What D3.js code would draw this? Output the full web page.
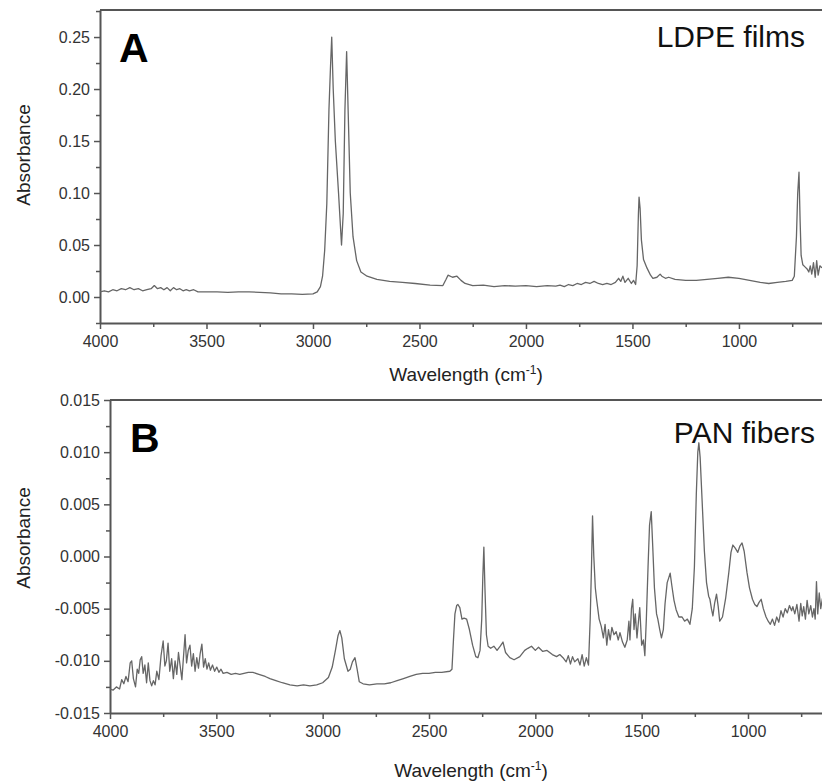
<html>
<head>
	<meta charset="utf-8">
	<title>FTIR spectra</title>
	<style>
		body {
			margin:0;
			padding:0;
			background:#fff;
			font-family: "Liberation Sans", Arial, sans-serif;
		}
		.domain { stroke:#555; stroke-width:2; }
		.tick line { stroke:#555; stroke-width:1.5; }
		.tick text { fill:#333; font-size:16px; font-family:"Liberation Sans", Arial, sans-serif; }
		.spec { fill:none; stroke:#666; stroke-width:1.3; stroke-linejoin:round; }
	</style>
</head>
<body>
	<svg width="822" height="782"></svg>

	<script src="https://d3js.org/d3.v7.min.js"></script>
	<script>

		// LDPE film spectrum, [wavenumber, absorbance]
		var ldpe = [
			[4000,0.005],[3980,0.006],[3960,0.005],[3940,0.007],[3920,0.006],[3900,0.008],[3880,0.007],
			[3860,0.009],[3840,0.007],[3820,0.008],[3800,0.006],[3780,0.007],[3760,0.008],[3745,0.011],
			[3730,0.008],[3715,0.009],[3700,0.007],[3685,0.009],[3670,0.006],[3655,0.009],[3640,0.007],
			[3625,0.008],[3610,0.006],[3595,0.007],[3580,0.006],[3560,0.007],[3540,0.005],[3500,0.005],
			[3450,0.005],[3400,0.0045],[3350,0.005],[3300,0.005],[3250,0.0045],[3200,0.004],[3150,0.003],
			[3100,0.003],[3050,0.0025],[3000,0.003],[2980,0.005],[2965,0.010],[2955,0.020],[2945,0.045],
			[2935,0.09],[2925,0.18],[2918,0.22],[2912,0.250],[2905,0.20],[2895,0.15],[2880,0.10],
			[2866,0.050],[2858,0.08],[2850,0.18],[2842,0.236],[2835,0.18],[2825,0.10],[2812,0.058],
			[2795,0.035],[2775,0.024],[2746,0.020],[2700,0.017],[2640,0.015],[2580,0.014],[2520,0.013],
			[2450,0.0115],[2390,0.011],[2375,0.017],[2366,0.021],[2345,0.019],[2324,0.020],[2305,0.016],
			[2286,0.013],[2250,0.011],[2200,0.0115],[2150,0.010],[2100,0.011],[2050,0.0105],[2000,0.011],
			[1950,0.010],[1900,0.011],[1860,0.0105],[1840,0.0115],[1820,0.010],[1800,0.012],[1780,0.011],
			[1760,0.013],[1740,0.012],[1720,0.014],[1700,0.013],[1680,0.015],[1660,0.013],[1640,0.012],
			[1620,0.013],[1600,0.012],[1580,0.014],[1565,0.018],[1555,0.015],[1545,0.020],[1535,0.014],
			[1520,0.018],[1505,0.013],[1495,0.016],[1485,0.012],[1478,0.030],[1472,0.080],[1469,0.096],
			[1464,0.085],[1458,0.055],[1448,0.036],[1432,0.028],[1415,0.021],[1404,0.018],[1385,0.019],
			[1370,0.022],[1362,0.020],[1345,0.018],[1330,0.019],[1300,0.017],[1250,0.016],[1200,0.016],
			[1150,0.017],[1100,0.018],[1050,0.019],[1000,0.018],[950,0.016],[900,0.014],[860,0.013],
			[820,0.014],[780,0.015],[750,0.016],[740,0.020],[730,0.058],[724,0.100],[718,0.120],
			[713,0.075],[708,0.040],[700,0.031],[690,0.029],[680,0.027],[672,0.024],[665,0.030],
			[658,0.022],[650,0.033],[642,0.019],[635,0.035],[628,0.021],[620,0.030],[610,0.028]
		];

		// PAN fiber spectrum, [wavenumber, absorbance]
		var pan = [
			[4000,-0.0127],[3985,-0.0128],[3970,-0.0125],[3955,-0.0127],[3945,-0.0118],[3935,-0.0122],
			[3925,-0.0115],[3915,-0.0120],[3905,-0.0102],[3898,-0.0100],[3890,-0.0117],[3880,-0.0125],
			[3872,-0.0108],[3865,-0.0112],[3858,-0.0099],[3851,-0.0096],[3844,-0.0112],[3836,-0.0104],
			[3828,-0.0121],[3820,-0.0102],[3812,-0.0119],[3804,-0.0124],[3796,-0.0119],[3788,-0.0123],
			[3780,-0.0110],[3770,-0.0118],[3760,-0.0095],[3750,-0.0081],[3742,-0.0105],[3735,-0.0100],
			[3727,-0.0083],[3719,-0.0110],[3710,-0.0098],[3702,-0.0117],[3694,-0.0100],[3686,-0.0113],
			[3678,-0.0092],[3670,-0.0105],[3662,-0.0118],[3654,-0.0095],[3647,-0.0075],[3640,-0.0102],
			[3632,-0.0090],[3624,-0.0085],[3616,-0.0105],[3608,-0.0093],[3600,-0.0110],[3592,-0.0097],
			[3584,-0.0107],[3576,-0.0093],[3568,-0.0084],[3560,-0.0106],[3552,-0.0098],[3544,-0.0108],
			[3536,-0.0102],[3528,-0.0109],[3518,-0.0104],[3508,-0.0110],[3498,-0.0106],[3488,-0.0111],
			[3478,-0.0108],[3468,-0.0112],[3450,-0.0111],[3430,-0.0113],[3410,-0.0112],[3390,-0.0113],
			[3370,-0.0112],[3350,-0.0111],[3328,-0.0111],[3300,-0.0113],[3270,-0.0115],[3248,-0.0117],
			[3220,-0.0119],[3190,-0.0121],[3154,-0.0123],[3120,-0.0124],[3090,-0.0123],[3060,-0.0124],
			[3028,-0.0123],[3000,-0.0121],[2973,-0.0116],[2955,-0.0106],[2940,-0.0090],[2928,-0.0076],
			[2919,-0.0071],[2910,-0.0078],[2898,-0.0098],[2881,-0.0110],[2870,-0.0108],[2860,-0.0101],
			[2848,-0.0097],[2838,-0.0108],[2828,-0.0120],[2810,-0.0122],[2780,-0.0123],[2745,-0.0122],
			[2710,-0.0122],[2680,-0.0121],[2650,-0.0119],[2620,-0.0117],[2590,-0.0115],[2560,-0.0113],
			[2530,-0.0112],[2500,-0.0112],[2470,-0.0111],[2440,-0.0111],[2402,-0.0110],[2392,-0.0108],
			[2385,-0.0080],[2378,-0.0055],[2370,-0.0047],[2364,-0.0046],[2355,-0.0049],[2345,-0.0060],
			[2335,-0.0059],[2323,-0.0060],[2310,-0.0070],[2295,-0.0085],[2280,-0.0096],[2270,-0.0097],
			[2260,-0.0090],[2252,-0.0060],[2247,-0.0020],[2242,0.0009],[2237,-0.0030],[2230,-0.0075],
			[2222,-0.0086],[2210,-0.0088],[2195,-0.0086],[2180,-0.0090],[2165,-0.0086],[2152,-0.0082],
			[2140,-0.0092],[2120,-0.0097],[2100,-0.0099],[2073,-0.0096],[2050,-0.0090],[2035,-0.0088],
			[2018,-0.0086],[2000,-0.0090],[1985,-0.0087],[1965,-0.0091],[1945,-0.0090],[1920,-0.0094],
			[1900,-0.0096],[1885,-0.0094],[1870,-0.0097],[1855,-0.0101],[1845,-0.0095],[1835,-0.0103],
			[1825,-0.0096],[1815,-0.0101],[1800,-0.0098],[1790,-0.0104],[1780,-0.0094],[1770,-0.0105],
			[1760,-0.0097],[1750,-0.0104],[1742,-0.0060],[1736,-0.0010],[1731,0.0039],[1725,0.0000],
			[1718,-0.0030],[1712,-0.0041],[1700,-0.0060],[1690,-0.0067],[1680,-0.0078],[1672,-0.0065],
			[1664,-0.0085],[1656,-0.0070],[1648,-0.0080],[1640,-0.0068],[1630,-0.0075],[1620,-0.0072],
			[1610,-0.0080],[1602,-0.0073],[1590,-0.0082],[1579,-0.0087],[1568,-0.0080],[1560,-0.0062],
			[1555,-0.0080],[1548,-0.0050],[1542,-0.0041],[1536,-0.0070],[1530,-0.0055],[1522,-0.0078],
			[1515,-0.0062],[1509,-0.0049],[1500,-0.0085],[1492,-0.0080],[1485,-0.0095],[1478,-0.0060],
			[1470,-0.0010],[1463,0.0030],[1455,0.0043],[1448,0.0010],[1440,-0.0030],[1430,-0.0055],
			[1424,-0.0060],[1415,-0.0070],[1407,-0.0078],[1398,-0.0070],[1390,-0.0045],[1380,-0.0025],
			[1372,-0.0020],[1366,-0.0016],[1358,-0.0028],[1348,-0.0042],[1338,-0.0051],[1325,-0.0058],
			[1310,-0.0058],[1298,-0.0062],[1285,-0.0060],[1273,-0.0065],[1262,-0.0050],[1252,-0.0010],
			[1243,0.0060],[1236,0.0100],[1231,0.0109],[1225,0.0095],[1215,0.0050],[1205,0.0005],
			[1195,-0.0025],[1185,-0.0038],[1179,-0.0041],[1172,-0.0050],[1165,-0.0057],[1157,-0.0045],
			[1148,-0.0036],[1140,-0.0048],[1133,-0.0062],[1120,-0.0058],[1105,-0.0040],[1090,-0.0015],
			[1080,0.0004],[1071,0.0011],[1060,0.0008],[1048,0.0004],[1038,0.0010],[1028,0.0013],
			[1018,0.0005],[1005,-0.0015],[993,-0.0030],[979,-0.0041],[968,-0.0046],[958,-0.0048],
			[948,-0.0044],[938,-0.0041],[928,-0.0050],[915,-0.0058],[905,-0.0062],[895,-0.0065],
			[885,-0.0060],[875,-0.0066],[865,-0.0058],[855,-0.0063],[845,-0.0052],[835,-0.0058],
			[825,-0.0050],[815,-0.0054],[805,-0.0047],[795,-0.0052],[789,-0.0048],[780,-0.0055],
			[770,-0.0046],[760,-0.0062],[752,-0.0045],[745,-0.0057],[738,-0.0048],[730,-0.0060],
			[722,-0.0042],[714,-0.0055],[705,-0.0047],[697,-0.0058],[690,-0.0050],[684,-0.0060],
			[678,-0.0024],[672,-0.0055],[665,-0.0035],[658,-0.0050],[650,-0.0040]
		];

		var xTicks = [4000, 3500, 3000, 2500, 2000, 1500, 1000];
		var xMinor = [3750, 3250, 2750, 2250, 1750, 1250, 750];
		var ldpeTicks = [0, 0.05, 0.10, 0.15, 0.20, 0.25];
		var ldpeMinor = [-0.025, 0.025, 0.075, 0.125, 0.175, 0.225, 0.275];
		var panTicks = [-0.015, -0.010, -0.005, 0, 0.005, 0.010, 0.015];
		var panMinor = [-0.0125, -0.0075, -0.0025, 0.0025, 0.0075, 0.0125];

		var svg = d3.select("svg");

		// plain hyphen for negative numbers, like the original plot
		function fmt(spec) {
			var f = d3.format(spec);
			return function(d) { return f(d).replace("\u2212", "-"); };
		}

		drawPanel({
			id: "a", data: ldpe,
			left: 100, right: 822, top: 10, bottom: 323,
			xDomain: [4000, 610], yDomain: [-0.025, 0.276],
			yTicks: ldpeTicks, yMinor: ldpeMinor, yFormat: fmt(".2f"),
			letter: "A", letterX: 119, letterY: 62,
			name: "LDPE films", nameX: 805, nameY: 47,
			xLabelY: 381, yLabelY: 155
		});

		drawPanel({
			id: "b", data: pan,
			left: 110, right: 822, top: 400, bottom: 713,
			xDomain: [4000, 652], yDomain: [-0.015, 0.015],
			yTicks: panTicks, yMinor: panMinor, yFormat: fmt(".3f"),
			letter: "B", letterX: 130, letterY: 452,
			name: "PAN fibers", nameX: 815, nameY: 443,
			xLabelY: 777, yLabelY: 538
		});

		function drawPanel(p) {
			var x = d3.scaleLinear().domain(p.xDomain).range([p.left, p.right]);
			var y = d3.scaleLinear().domain(p.yDomain).range([p.bottom, p.top]);

			svg.append("clipPath").attr("id", "clip-" + p.id)
				.append("rect")
				.attr("x", p.left).attr("y", p.top)
				.attr("width", p.right - p.left).attr("height", p.bottom - p.top);

			var g = svg.append("g");

			// minor ticks first, majors on top
			g.append("g")
				.attr("transform", "translate(0," + p.bottom + ")")
				.call(d3.axisBottom(x).tickValues(xMinor).tickSize(4).tickFormat(""))
				.select(".domain").remove();
			g.append("g")
				.attr("transform", "translate(" + p.left + ",0)")
				.call(d3.axisLeft(y).tickValues(p.yMinor).tickSize(4).tickFormat(""))
				.select(".domain").remove();

			g.append("g")
				.attr("transform", "translate(0," + p.bottom + ")")
				.call(d3.axisBottom(x).tickValues(xTicks).tickSize(6).tickSizeOuter(0).tickPadding(7).tickFormat(d3.format("d")));
			g.append("g")
				.attr("transform", "translate(" + p.left + ",0)")
				.call(d3.axisLeft(y).tickValues(p.yTicks).tickSize(6).tickSizeOuter(0).tickPadding(4).tickFormat(p.yFormat));

			// top frame line
			g.append("line")
				.attr("x1", p.left).attr("x2", p.right)
				.attr("y1", p.top).attr("y2", p.top)
				.attr("stroke", "#555").attr("stroke-width", 2);

			var line = d3.line()
				.x(function(d) { return x(d[0]); })
				.y(function(d) { return y(d[1]); });

			g.append("path")
				.datum(p.data)
				.attr("class", "spec")
				.attr("clip-path", "url(#clip-" + p.id + ")")
				.attr("d", line);

			g.append("text")
				.attr("x", p.letterX).attr("y", p.letterY)
				.style("font-size", "41px").style("font-weight", "bold").style("fill", "#000")
				.text(p.letter);

			g.append("text")
				.attr("x", p.nameX).attr("y", p.nameY)
				.attr("text-anchor", "end")
				.style("font-size", "30px").style("fill", "#111")
				.text(p.name);

			var xl = g.append("text")
				.attr("x", (p.left + p.right) / 2 + 5).attr("y", p.xLabelY)
				.attr("text-anchor", "middle")
				.style("font-size", "19px").style("fill", "#222");
			xl.append("tspan").text("Wavelength (cm");
			xl.append("tspan").attr("dy", -7).style("font-size", "12px").text("-1");
			xl.append("tspan").attr("dy", 7).text(")");

			g.append("text")
				.attr("transform", "translate(30," + p.yLabelY + ") rotate(-90)")
				.attr("text-anchor", "middle")
				.style("font-size", "19px").style("fill", "#222")
				.text("Absorbance");
		}
	</script>
</body>
</html>
